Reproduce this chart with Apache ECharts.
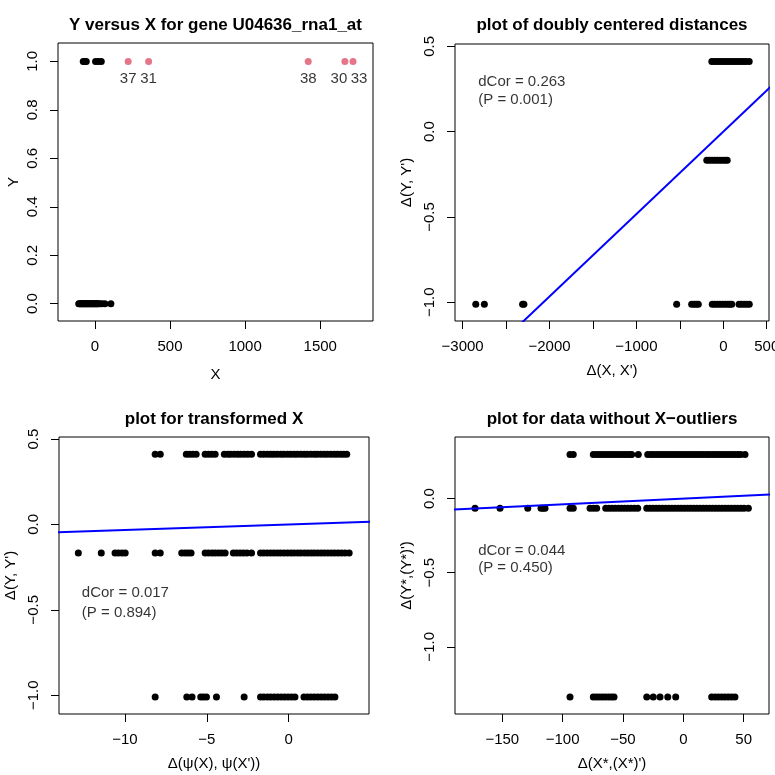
<!DOCTYPE html>
<html><head><meta charset="utf-8">
<script src="https://cdn.jsdelivr.net/npm/echarts@6/dist/echarts.min.js"></script>
<style>html,body{margin:0;padding:0;background:#fff}#c{width:775px;height:775px}</style>
</head><body><div id="c"></div>
<script>
// ---------- Panel 1: Y versus X ----------
const p1ZeroX = [-107,-101,-95,-90,-84,-78,-72,-67,-61,-55,-49,-43,-37,-31,-25,-19,-13,-7,-1,5,11,16,22,33,48,67,107];
const p1OneX = [-77,-67,-57,5,24,43];
const p1OutX = [222,358,1420,1664,1718];
const p1OutLabels = ['37','31','38','30','33'];
const p1Levels = [0, 1];

// ---------- Panel 2: doubly centered distances ----------
const p2Levels = [0.4114, -0.1676, -1.0111];
const p2TopX = [-132,-100,-70,-40,-10,20,50,80,110,140,170,200,230,260,298];
const p2MidX = [-190,-160,-130,-100,-70,-40,-10,20,45];
const p2BotX = [-2849,-2750,-2310,-2295,-537,-364,-335,-310,-288,-127,-100,-70,-40,-10,20,50,75,97,181,210,240,270,299];
const p2Slope = 0.000483;

// ---------- Panel 3: transformed X ----------
const p3Levels = [0.4114, -0.1676, -1.0111];
const p3TopX = [-8.15,-7.84,-6.25,-6.05,-5.85,-5.65,-5.10,-4.90,-4.70,-4.49,-3.93,-3.72,-3.55,-3.33,-3.12,-2.93,-2.71,-2.50,-2.27,-1.72,-1.52,-1.30,-1.10,-0.91,-0.70,-0.48,-0.30,-0.08,0.12,0.33,0.52,0.74,0.95,1.13,1.35,1.56,1.74,1.96,2.17,2.36,2.57,2.78,2.97,3.18,3.36,3.54];
const p3MidX = [-12.84,-11.44,-10.60,-10.40,-10.18,-9.98,-8.15,-7.84,-6.53,-6.33,-6.14,-5.96,-5.10,-4.90,-4.68,-4.49,-4.28,-4.08,-3.88,-3.38,-3.18,-2.97,-2.77,-2.55,-2.27,-1.72,-1.52,-1.31,-1.10,-0.90,-0.69,-0.49,-0.28,-0.07,0.14,0.33,0.55,0.74,0.96,1.16,1.37,1.56,1.77,1.98,2.18,2.39,2.60,2.80,3.01,3.22,3.44,3.69];
const p3BotX = [-8.15,-6.22,-5.90,-5.37,-5.20,-5.02,-4.41,-2.72,-1.72,-1.52,-1.30,-1.10,-0.88,-0.67,-0.46,-0.25,-0.04,0.17,0.38,0.93,1.14,1.35,1.56,1.77,1.98,2.19,2.40,2.61,2.82];
const p3Slope = 0.0032;

// ---------- Panel 4: without X-outliers ----------
const p4Levels = [0.2975, -0.0661, -1.3388];
const p4TopX = [-93.9,-91.2,-74.6,-72.0,-69.5,-67.0,-64.4,-61.8,-59.3,-56.7,-54.2,-51.6,-49.0,-46.5,-44.0,-42.8,-37.3,-29.5,-26.9,-24.4,-21.8,-19.2,-16.6,-14.1,-11.5,-9.0,-6.4,-3.8,-1.3,1.3,3.9,6.4,9.0,11.6,14.1,16.7,19.3,21.8,24.4,27.0,29.5,32.1,34.7,37.2,39.8,42.4,45.0,47.5,51.1];
const p4MidX = [-172.6,-151.9,-128.9,-117.9,-116.2,-114.6,-93.9,-91.2,-77.3,-74.5,-71.8,-64.3,-61.7,-59.1,-56.5,-53.8,-51.2,-48.6,-46.0,-43.4,-40.6,-37.8,-30.3,-27.7,-25.1,-22.5,-19.9,-17.3,-14.7,-12.1,-9.5,-6.9,-4.3,-1.7,0.9,3.5,6.1,8.7,11.3,13.9,16.5,19.1,21.7,24.3,26.9,29.5,32.1,34.7,37.3,39.9,42.5,45.1,47.7,50.3,53.9];
const p4BotX = [-93.9,-74.6,-72.1,-69.6,-67.1,-64.6,-62.0,-59.6,-57.4,-30.3,-24.9,-19.3,-12.9,-6.3,23.5,26.3,29.0,31.8,34.5,37.2,40.0,42.8];
const p4Slope = 0.00039;

// ---------- Titles, axis labels, annotations ----------
const titles = ['Y versus X for gene U04636_rna1_at','plot of doubly centered distances','plot for transformed X','plot for data without X\u2212outliers'];
const xNames = ['X','\u0394(X, X\')','\u0394(\u03c8(X), \u03c8(X\'))','\u0394(X*,(X*)\')'];
const yNames = ['Y','\u0394(Y, Y\')','\u0394(Y, Y\')','\u0394(Y*,(Y*)\')'];
const annTexts = [['dCor = 0.263','(P = 0.001)'],['dCor = 0.017','(P = 0.894)'],['dCor = 0.044','(P = 0.450)']];
const annX = [-2826, -12.66, -170.4];
const annY = [[0.293,0.185],[-0.402,-0.516],[-0.355,-0.466]];

const xTicks = [[0,500,1000,1500],[-3000,-2500,-2000,-1500,-1000,-500,0,500],[-10,-5,0],[-150,-100,-50,0,50]];
const xTickLabels = [[0,500,1000,1500],[-3000,-2000,-1000,0,500],[-10,-5,0],[-150,-100,-50,0,50]];
const yTicks = [[0,0.2,0.4,0.6,0.8,1.0],[-1.0,-0.5,0,0.5],[-1.0,-0.5,0,0.5],[-1.0,-0.5,0]];

// ---------- layout / style ----------
const FONT = '"Liberation Sans", Arial, Helvetica, sans-serif';
const grids = [
  {left:58, top:43, width:315, height:278},
  {left:455, top:44, width:314, height:277},
  {left:59, top:437, width:310, height:277},
  {left:455, top:437, width:314, height:277}
];
const xRanges = [[-245,1851],[-3088,526],[-14.02,4.90],[-189.2,71.0]];
const yRanges = [[-0.0715,1.076],[-1.110,0.514],[-1.110,0.512],[-1.453,0.415]];
const minus = s => String(s).replace('-', '\u2212');

const option = {
  animation: false,
  backgroundColor: '#fff',
  textStyle: {fontFamily: FONT},
  title: titles.map((t,i) => ({
    text: t,
    left: grids[i].left + grids[i].width/2,
    top: i < 2 ? 17 : 411,
    padding: 0,
    textAlign: 'center',
    textStyle: {fontFamily: FONT, fontWeight: 'bold', fontSize: 17, color: '#000'}
  })),
  grid: grids.map(g => Object.assign({show:true, borderColor:'#000', borderWidth:1, backgroundColor:'transparent', containLabel:false, outerBoundsMode:'none'}, g)),
  xAxis: grids.map((g,i) => ({
    type:'value', gridIndex:i, min:xRanges[i][0], max:xRanges[i][1],
    name: xNames[i], nameLocation:'middle', nameGap: i === 0 ? 46 : 42,
    nameTextStyle:{fontFamily:FONT, fontSize:15, color:'#000'},
    axisLine:{show:false, onZero:false},
    axisTick:{show:true, inside:false, length:8, lineStyle:{color:'#000'}, customValues: xTicks[i]},
    axisLabel:{show:true, margin:18, fontSize:15, color:'#000', fontFamily:FONT, customValues: xTickLabels[i], formatter: v => minus(v)},
    splitLine:{show:false}
  })),
  yAxis: grids.map((g,i) => ({
    type:'value', gridIndex:i, min:yRanges[i][0], max:yRanges[i][1],
    name: yNames[i], nameLocation:'middle', nameGap: i === 0 ? 37 : 41, nameRotate: 90,
    nameTextStyle:{fontFamily:FONT, fontSize:15, color:'#000'},
    axisLine:{show:false, onZero:false},
    axisTick:{show:true, inside:false, length:8, lineStyle:{color:'#000'}, customValues: yTicks[i]},
    axisLabel:{show:true, margin:18, rotate:90, fontSize:15, color:'#000', fontFamily:FONT, customValues: yTicks[i], formatter: v => minus(Number(v).toFixed(1))},
    splitLine:{show:false}
  })),
  series: []
};

function dots(idx, xs, y, color) {
  option.series.push({
    type:'scatter', xAxisIndex:idx, yAxisIndex:idx, symbol:'circle', symbolSize:7,
    itemStyle:{color: color || '#000', opacity:1}, silent:true,
    data: xs.map(x => [x, y])
  });
}
// Panel 1
dots(0, p1ZeroX, p1Levels[0]);
dots(0, p1OneX, p1Levels[1]);
option.series.push({
  type:'scatter', xAxisIndex:0, yAxisIndex:0, symbol:'circle', symbolSize:7,
  itemStyle:{color:'#DF536B'}, silent:true,
  label:{show:true, position:'bottom', distance:6, fontSize:15, color:'#000', fontFamily:FONT,
         formatter: p => p1OutLabels[p.dataIndex]},
  data: p1OutX.map((x,k) => {
    const d = {value:[x, p1Levels[1]]};
    if (k === 3) d.label = {offset:[-6,0]};
    if (k === 4) d.label = {offset:[6,0]};
    return d;
  })
});
// Panel 2
dots(1, p2TopX, p2Levels[0]); dots(1, p2MidX, p2Levels[1]); dots(1, p2BotX, p2Levels[2]);
// Panel 3
dots(2, p3TopX, p3Levels[0]); dots(2, p3MidX, p3Levels[1]); dots(2, p3BotX, p3Levels[2]);
// Panel 4
dots(3, p4TopX, p4Levels[0]); dots(3, p4MidX, p4Levels[1]); dots(3, p4BotX, p4Levels[2]);

// fitted lines through origin
[[1,p2Slope],[2,p3Slope],[3,p4Slope]].forEach(([i,s]) => {
  const x0 = xRanges[i][0]*1.5, x1 = xRanges[i][1]*1.5;
  option.series.push({
    type:'line', xAxisIndex:i, yAxisIndex:i, symbol:'none', clip:true, silent:true,
    lineStyle:{color:'#0000FF', width:2},
    data:[[x0, s*x0],[x1, s*x1]], z:3
  });
});

// annotations
annTexts.forEach((lines,k) => {
  const i = k + 1;
  option.series.push({
    type:'scatter', xAxisIndex:i, yAxisIndex:i, symbol:'circle', symbolSize:1,
    itemStyle:{color:'rgba(0,0,0,0)'}, silent:true,
    label:{show:true, position:'right', distance:0, fontSize:15, color:'#000', fontFamily:FONT,
           formatter: p => lines[p.dataIndex]},
    data: lines.map((t,j) => [annX[k], annY[k][j]])
  });
});

const chart = echarts.init(document.getElementById('c'), null, {renderer:'canvas'});
chart.setOption(option);
</script></body></html>
